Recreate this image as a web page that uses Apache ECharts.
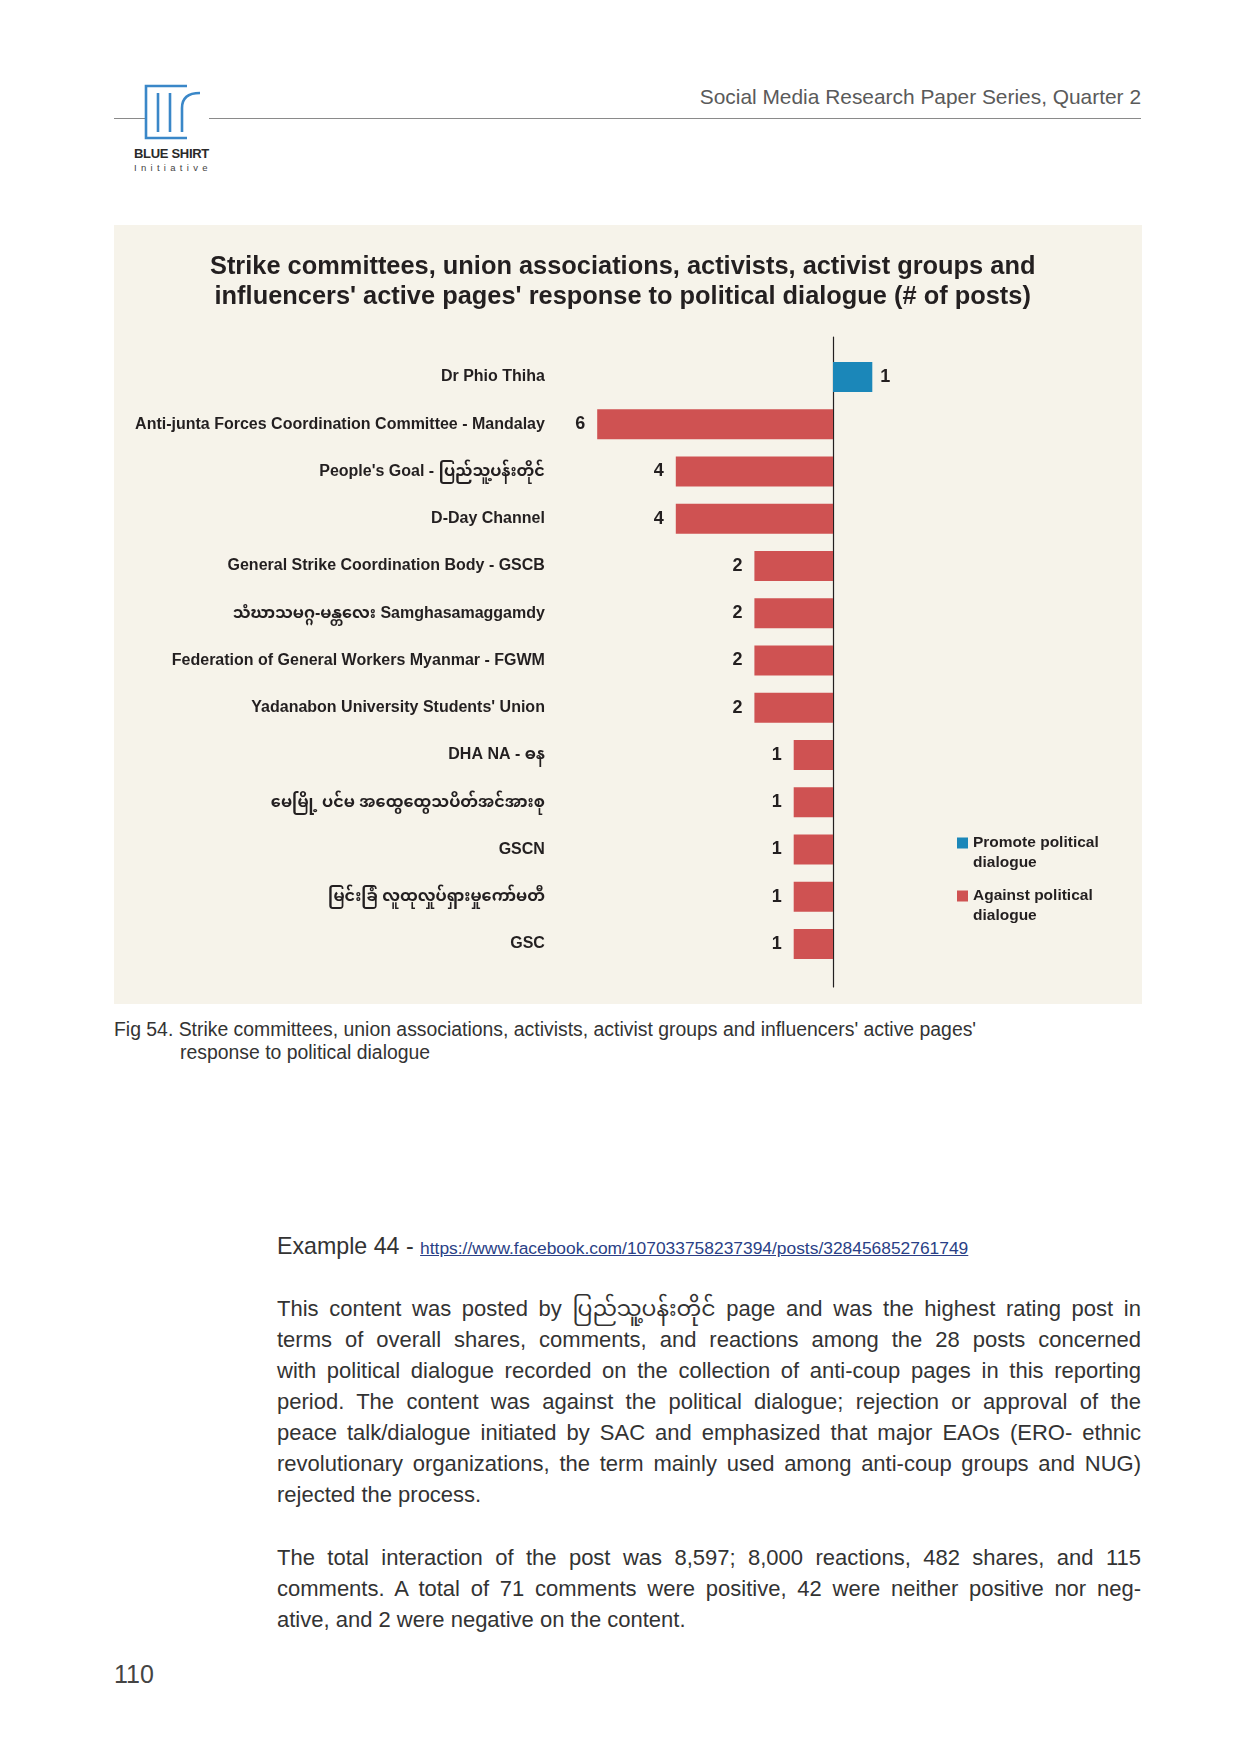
<!DOCTYPE html>
<html>
<head>
<meta charset="utf-8">
<script src="https://cdn.jsdelivr.net/npm/echarts@6/dist/echarts.min.js"></script>
<style>
  html, body { margin: 0; padding: 0; background: #ffffff; }
  body { width: 1257px; height: 1754px; position: relative; overflow: hidden;
         font-family: "Liberation Sans", Arial, "Noto Sans Myanmar", "Padauk", sans-serif; color: #333; }
  .abs { position: absolute; }
  #chart { position: absolute; left: 114px; top: 225px; width: 1028px; height: 779px; }
  .hdr { right: 116px; top: 84px; font-size: 20.9px; color: #5a5a5a; line-height: 26px; }
  .hline { height: 1px; background: #8a8a8a; top: 118px; }
  .cap { left: 114px; top: 1018px; font-size: 19.4px; line-height: 23px; color: #333; }
  .para { left: 277px; width: 864px; font-size: 22px; line-height: 31px; color: #333; }
  .jl { text-align: justify; text-align-last: justify; }
  .ll { text-align: left; }
  a { color: #2a3f86; }
</style>
</head>
<body>
<!-- header -->
<div class="abs hdr">Social Media Research Paper Series, Quarter 2</div>
<div class="abs hline" style="left:114px;width:31px;"></div>
<div class="abs hline" style="left:209px;width:932px;"></div>
<svg class="abs" style="left:143px;top:84px" width="60" height="56" viewBox="0 0 60 56">
  <g fill="none" stroke="#3a87c8" stroke-width="2.6">
    <path d="M44 2 H3 V54 H44"/>
    <path d="M15 9 V48"/>
    <path d="M27 9 V48"/>
    <path d="M39 48 V24 Q39 9 57 9"/>
  </g>
</svg>
<div class="abs" style="left:134px;top:145px;font-size:13px;font-weight:bold;color:#2a2a2a;letter-spacing:-0.3px;line-height:18px;">BLUE SHIRT</div>
<div class="abs" style="left:134px;top:161px;font-size:9.5px;color:#444;letter-spacing:4.3px;line-height:14px;">Initiative</div>

<div id="chart"></div>

<div class="abs cap">Fig 54. Strike committees, union associations, activists, activist groups and influencers' active pages'<br><span style="padding-left:66px">response to political dialogue</span></div>

<div class="abs" style="left:277px;top:1231px;font-size:23.2px;line-height:31px;color:#333;">Example 44 - <a style="font-size:17.4px;" href="#">https://www.facebook.com/107033758237394/posts/328456852761749</a></div>

<div class="abs para" style="top:1293px;">
  <div class="jl">This content was posted by ပြည်သူ့ပန်းတိုင် page and was the highest rating post in</div>
  <div class="jl">terms of overall shares, comments, and reactions among the 28 posts concerned</div>
  <div class="jl">with political dialogue recorded on the collection of anti-coup pages in this reporting</div>
  <div class="jl">period. The content was against the political dialogue; rejection or approval of the</div>
  <div class="jl">peace talk/dialogue initiated by SAC and emphasized that major EAOs (ERO- ethnic</div>
  <div class="jl">revolutionary organizations, the term mainly used among anti-coup groups and NUG)</div>
  <div class="ll">rejected the process.</div>
</div>
<div class="abs para" style="top:1542px;">
  <div class="jl">The total interaction of the post was 8,597; 8,000 reactions, 482 shares, and 115</div>
  <div class="jl">comments. A total of 71 comments were positive, 42 were neither positive nor neg-</div>
  <div class="ll">ative, and 2 were negative on the content.</div>
</div>

<div class="abs" style="left:114px;top:1659px;font-size:25px;line-height:30px;color:#444;">110</div>

<script>
// ---- data ----
const categories = [
  "Dr Phio Thiha",
  "Anti-junta Forces Coordination Committee - Mandalay",
  "People's Goal - ပြည်သူ့ပန်းတိုင်",
  "D-Day Channel",
  "General Strike Coordination Body - GSCB",
  "သံဃာသမဂ္ဂ-မန္တလေး Samghasamaggamdy",
  "Federation of General Workers Myanmar - FGWM",
  "Yadanabon University Students' Union",
  "DHA NA - ဓန",
  "မေမြို့ ပင်မ အထွေထွေသပိတ်အင်အားစု",
  "GSCN",
  "မြင်းခြံ လူထုလှုပ်ရှားမှုကော်မတီ",
  "GSC"
];
const promoteValues = [1, 0, 0, 0, 0, 0, 0, 0, 0, 0, 0, 0, 0];
const againstValues = [0, 6, 4, 4, 2, 2, 2, 2, 1, 1, 1, 1, 1];
const seriesNames = ["Promote political\ndialogue", "Against political\ndialogue"];
const seriesColors = ["#1b87b9", "#cf5252"];

// ---- chart ----
const FONT = '"Liberation Sans", Arial, "Noto Sans Myanmar", "Padauk", sans-serif';
const chart = echarts.init(document.getElementById('chart'), null, { renderer: 'canvas' });
const textColor = '#231f20';

chart.setOption({
  backgroundColor: '#f6f3ea',
  animation: false,
  textStyle: { fontFamily: FONT },
  title: {
    text: "Strike committees, union associations, activists, activist groups and\ninfluencers' active pages' response to political dialogue (# of posts)",
    left: 508.7, top: 27, padding: 0, textAlign: 'center',
    textStyle: { fontSize: 25.4, fontWeight: 'bold', color: textColor, lineHeight: 30, fontFamily: FONT }
  },
  legend: {
    orient: 'vertical', left: 843, top: 588, padding: 0, itemGap: -7,
    itemWidth: 11, itemHeight: 11, icon: 'rect',
    formatter: name => '\n' + name,
    textStyle: { fontSize: 15.5, fontWeight: 'bold', color: textColor, lineHeight: 20, fontFamily: FONT },
    data: seriesNames
  },
  grid: [
    { left: 443.9, right: 112.5, top: 128.4, height: 614.25, containLabel: false },
    { left: 443.9, right: 112.5, top: 112, height: 650, containLabel: false }
  ],
  xAxis: [
    { type: 'value', gridIndex: 0, min: -7, max: 5, show: false },
    { type: 'value', gridIndex: 1, min: -7, max: 5, show: false }
  ],
  yAxis: [
    {
      type: 'category', gridIndex: 0, data: categories, inverse: true,
      axisLine: { show: false }, axisTick: { show: false }, splitLine: { show: false },
      axisLabel: { margin: 13, fontSize: 16, fontWeight: 'bold', color: textColor, fontFamily: FONT }
    },
    {
      type: 'value', gridIndex: 1, min: 0, max: 1,
      axisLine: { show: true, onZero: true, lineStyle: { color: textColor, width: 1.2 } },
      axisTick: { show: false }, axisLabel: { show: false }, splitLine: { show: false }
    }
  ],
  series: [
    {
      name: seriesNames[0], type: 'bar', xAxisIndex: 0, yAxisIndex: 0,
      barWidth: 30, barGap: '-100%',
      itemStyle: { color: seriesColors[0] },
      label: { show: true, position: 'right', distance: 8, fontSize: 18, fontWeight: 'bold', color: textColor, fontFamily: FONT },
      data: promoteValues.map(v => v ? v : '-')
    },
    {
      name: seriesNames[1], type: 'bar', xAxisIndex: 0, yAxisIndex: 0,
      barWidth: 30, barGap: '-100%',
      itemStyle: { color: seriesColors[1] },
      label: { show: true, position: 'left', distance: 12, fontSize: 18, fontWeight: 'bold', color: textColor, fontFamily: FONT,
               formatter: p => Math.abs(p.value) },
      data: againstValues.map(v => v ? -v : '-')
    }
  ]
});
</script>
</body>
</html>
